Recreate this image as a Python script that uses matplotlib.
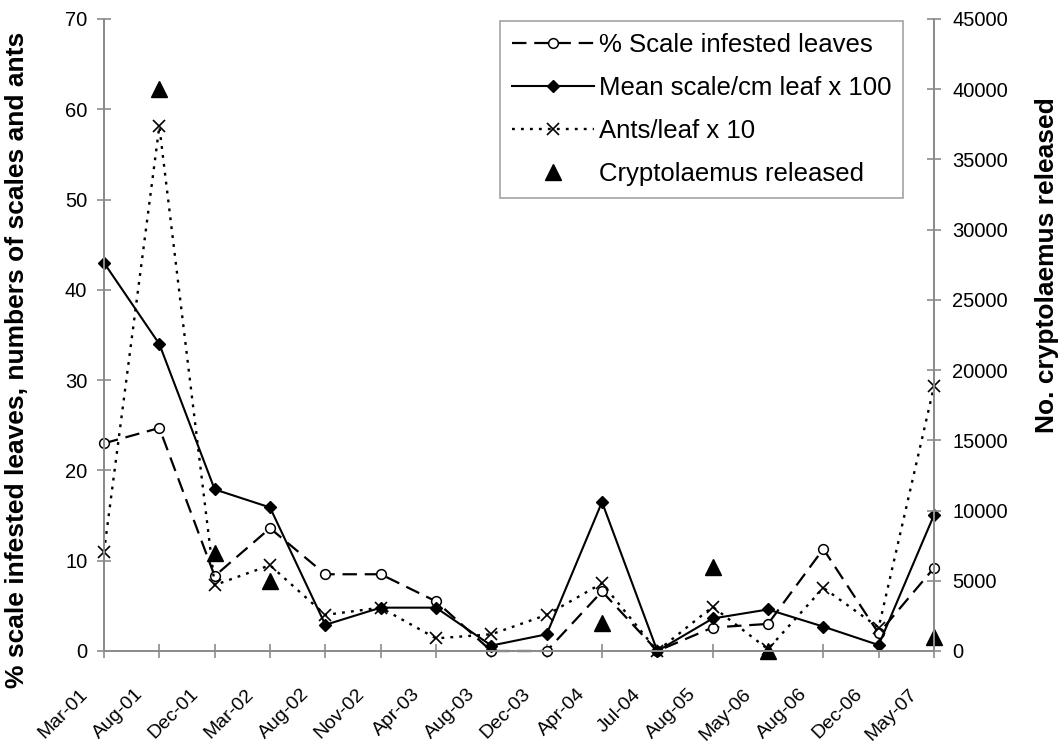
import matplotlib
matplotlib.use('Agg')
import matplotlib.pyplot as plt
import matplotlib.transforms as mtransforms
import numpy as np

plt.rcParams['font.family'] = ['Liberation Sans', 'DejaVu Sans']

dates = ['Mar-01', 'Aug-01', 'Dec-01', 'Mar-02', 'Aug-02', 'Nov-02', 'Apr-03', 'Aug-03',
         'Dec-03', 'Apr-04', 'Jul-04', 'Aug-05', 'May-06', 'Aug-06', 'Dec-06', 'May-07']

# % scale infested leaves
pct_infested = [23.0, 24.7, 8.3, 13.6, 8.5, 8.5, 5.5, 0.0,
                0.0, 6.6, 0.0, 2.6, 3.0, 11.3, 1.95, 9.2]
# mean scale / cm leaf x 100
mean_scale = [43.0, 34.0, 17.9, 15.9, 2.9, 4.8, 4.8, 0.6,
              1.85, 16.5, 0.0, 3.6, 4.6, 2.7, 0.66, 15.06]
# ants / leaf x 10
ants = [11.0, 58.1, 7.3, 9.5, 4.0, 4.8, 1.4, 1.85,
        4.0, 7.5, 0.0, 4.9, 0.2, 7.0, 2.6, 29.3]
# cryptolaemus released (secondary axis), NaN = none released
crypto = [np.nan, 40000, 7000, 5000, np.nan, np.nan, np.nan, np.nan,
          np.nan, 2000, np.nan, 6000, 0, np.nan, np.nan, 1000]

left_ticks = list(range(0, 71, 10))
right_ticks = list(range(0, 45001, 5000))

grey = '#8c8c8c'


def styleAxis(ax)->None:
    for side in ['left', 'right', 'bottom']:
        ax.spines[side].set_color(grey)
        ax.spines[side].set_linewidth(1.4)
    ax.spines['top'].set_visible(False)
    ax.tick_params(colors=grey, direction='inout', length=10, width=1.2,
                   labelcolor='black', labelsize=14.5)


def main()->None:
    fig = plt.figure(figsize=(10.59, 7.42), dpi=100)
    ax = fig.add_axes([104/1059, 1-651/742, 830/1059, 632/742])
    ax2 = ax.twinx()

    x = np.arange(len(dates))

    l1, = ax.plot(x, pct_infested, color='black', lw=1.6, dashes=(6.5, 3.5),
                  marker='o', ms=7, mfc='white', mec='black', mew=1.1, clip_on=False,
                  label='% Scale infested leaves')
    l2, = ax.plot(x, mean_scale, color='black', lw=1.5, marker='D', ms=6.5,
                  mfc='black', mec='black', clip_on=False,
                  label='Mean scale/cm leaf x 100')
    l3, = ax.plot(x, ants, color='black', lw=1.7, dashes=(1.2, 2.6), marker='x',
                  ms=8, mew=1.2, mec='black', clip_on=False,
                  label='Ants/leaf x 10')
    l4, = ax2.plot(x, crypto, linestyle='none', marker='^', ms=12, color='black',
                   clip_on=False, label='Cryptolaemus released')

    ax.set_xlim(0, len(dates) - 1)
    ax.set_ylim(0, 70)
    ax2.set_ylim(0, 45000)
    ax.set_yticks(left_ticks)
    ax2.set_yticks(right_ticks)
    ax.set_xticks(x)
    ax.set_xticklabels(dates, rotation=45, ha='right')

    styleAxis(ax)
    styleAxis(ax2)
    ax.tick_params(axis='y', pad=7)
    ax.tick_params(axis='x', pad=20, labelsize=14)
    ax2.tick_params(axis='y', pad=8)

    # shift x labels slightly left
    offset = mtransforms.ScaledTranslation(-13/100, 0, fig.dpi_scale_trans)
    for label in ax.xaxis.get_majorticklabels():
        label.set_transform(label.get_transform() + offset)

    ax.set_ylabel('% scale infested leaves, numbers of scales and ants',
                  fontsize=19, fontweight='bold')
    ax.yaxis.set_label_coords(-0.09, 0.46)
    ax2.set_ylabel('No. cryptolaemus released', fontsize=19, fontweight='bold')
    ax2.yaxis.set_label_coords(1.122, 0.61)

    leg = ax2.legend(handles=[l1, l2, l3, l4], loc='upper right',
                     bbox_to_anchor=(903/1059, 1-21/742), bbox_transform=fig.transFigure,
                     fontsize=18.5, frameon=True,
                     fancybox=False, edgecolor=grey, handlelength=3.2,
                     handletextpad=0.2, labelspacing=0.75, borderpad=0.45,
                     borderaxespad=0, numpoints=1)
    leg.get_frame().set_linewidth(1.2)

    fig.savefig('out.png', dpi=100)


if __name__ == '__main__':
    main()
